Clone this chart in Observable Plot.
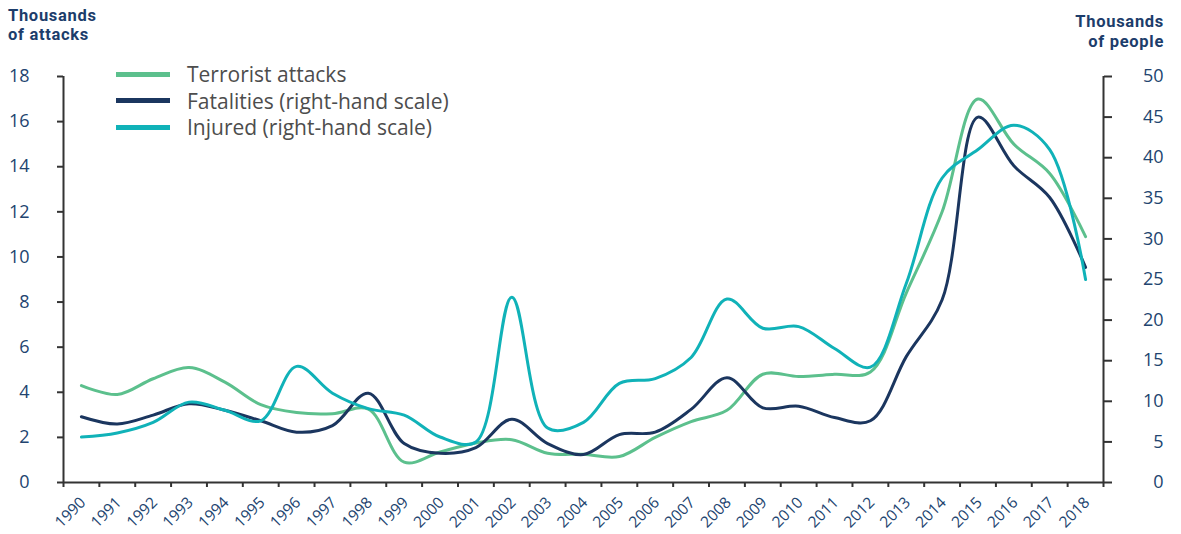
<!DOCTYPE html>
<html>
<head>
<meta charset="utf-8">
<script src="https://cdn.jsdelivr.net/npm/d3@7"></script>
<script src="https://cdn.jsdelivr.net/npm/@observablehq/plot@0.6"></script>
<style>
  body { margin: 0; background: #fff; }
  #wrap { position: relative; width: 1181px; height: 534px; font-family: "Open Sans", sans-serif; }
  .ttl { position: absolute; font-family: Roboto, sans-serif; font-weight: 700; font-size: 16.5px; line-height: 16px; letter-spacing: 0.7px; color: #1c3d6b; white-space: nowrap; }
  #legend { position: absolute; left: 116px; top: 61px; }
  .row { display: flex; align-items: center; height: 26.5px; }
  .sw { width: 54px; height: 5px; margin-right: 17px; flex: none; }
  .lt { font-size: 21px; line-height: 24px; color: #4d4d4d; white-space: nowrap; }
</style>
</head>
<body>
<div id="wrap"></div>
<script>
const years = d3.range(1990, 2019);
// Thousands of attacks (left scale)
const attacks = [4.3, 3.9, 4.6, 5.1, 4.45, 3.45, 3.1, 3.05, 3.25, 0.9, 1.35, 1.75, 1.9, 1.3, 1.25, 1.15, 2.0, 2.7, 3.2, 4.8, 4.7, 4.8, 4.9, 8.4, 12.0, 17.0, 15.0, 13.7, 10.9];
// Thousands of people (right scale)
const fatalities = [8.1, 7.2, 8.3, 9.7, 8.9, 7.6, 6.2, 7.0, 11.0, 4.8, 3.6, 4.3, 7.8, 4.8, 3.45, 5.9, 6.2, 9.0, 12.9, 9.2, 9.4, 8.0, 7.6, 15.5, 22.5, 45.0, 39.0, 35.1, 26.5];
const injured = [5.6, 6.1, 7.4, 9.9, 8.9, 7.6, 14.3, 11.0, 9.1, 8.3, 5.6, 5.0, 22.8, 6.7, 7.4, 12.2, 12.8, 15.4, 22.6, 19.0, 19.2, 16.5, 14.2, 24.5, 37.5, 41.0, 44.0, 41.0, 25.0];
const leftTicks = d3.range(0, 19, 2);
const rightTicks = d3.range(0, 51, 5);
const seriesNames = ["Terrorist attacks", "Fatalities (right-hand scale)", "Injured (right-hand scale)"];
const leftTitle = ["Thousands", "of attacks"];
const rightTitle = ["Thousands", "of people"];
const colors = ["#5cc08d", "#1b365f", "#10b2b8"];

const k = 18 / 50;
const rows = years.map((y, i) => ({year: y, attacks: attacks[i], fatalities: fatalities[i] * k, injured: injured[i] * k}));
const font = "Open Sans, sans-serif";
const labelColor = "#22446f";
const axisColor = "#333333";

const chart = Plot.plot({
  width: 1181,
  height: 534,
  marginLeft: 63,
  marginRight: 78,
  marginTop: 76,
  marginBottom: 52,
  style: {fontFamily: font, background: "transparent", overflow: "visible"},
  x: {domain: [1989.5, 2018.5], axis: null},
  y: {domain: [0, 18], axis: null},
  marks: [
    Plot.axisY({anchor: "left", ticks: leftTicks, tickSize: 6, tickPadding: 28, textAnchor: "end",
      tickFormat: d => String(d), label: null, fontSize: 18, stroke: axisColor, strokeWidth: 2, fill: labelColor}),
    Plot.axisY({anchor: "right", ticks: rightTicks.map(v => v * k), tickSize: 8, tickPadding: 52, textAnchor: "end",
      tickFormat: d => String(Math.round(d / k)), label: null, fontSize: 18, stroke: axisColor, strokeWidth: 2, fill: labelColor}),
    Plot.axisX({anchor: "bottom", ticks: d3.range(1989.5, 2019, 1), tickSize: 5, tickFormat: () => "", label: null,
      stroke: axisColor, strokeWidth: 2}),
    Plot.text(years, {x: d => d, text: d => String(d), frameAnchor: "bottom", dy: 21, dx: 5, rotate: -45,
      textAnchor: "end", fontSize: 15.5, fill: labelColor}),
    Plot.ruleX([1989.5, 2018.5], {stroke: axisColor, strokeWidth: 2}),
    Plot.ruleY([0], {stroke: axisColor, strokeWidth: 2}),
    Plot.line(rows, {x: "year", y: "attacks", curve: "catmull-rom", stroke: colors[0], strokeWidth: 3}),
    Plot.line(rows, {x: "year", y: "fatalities", curve: "catmull-rom", stroke: colors[1], strokeWidth: 3}),
    Plot.line(rows, {x: "year", y: "injured", curve: "catmull-rom", stroke: colors[2], strokeWidth: 3})
  ]
});

const wrap = document.getElementById("wrap");
wrap.appendChild(chart);

function addTitle(lines, side, offset, tops) {
  lines.forEach((t, i) => {
    const d = document.createElement("div");
    d.className = "ttl";
    d.style[side] = offset + "px";
    d.style.top = tops[i] + "px";
    d.textContent = t;
    wrap.appendChild(d);
  });
}
addTitle(leftTitle, "left", 8, [7.5, 27]);
addTitle(rightTitle, "right", 17, [14, 33.5]);

const lg = document.createElement("div");
lg.id = "legend";
seriesNames.forEach((n, i) => {
  const r = document.createElement("div");
  r.className = "row";
  r.innerHTML = `<div class="sw" style="background:${colors[i]}"></div><div class="lt">${n}</div>`;
  lg.appendChild(r);
});
wrap.appendChild(lg);
</script>
</body>
</html>
